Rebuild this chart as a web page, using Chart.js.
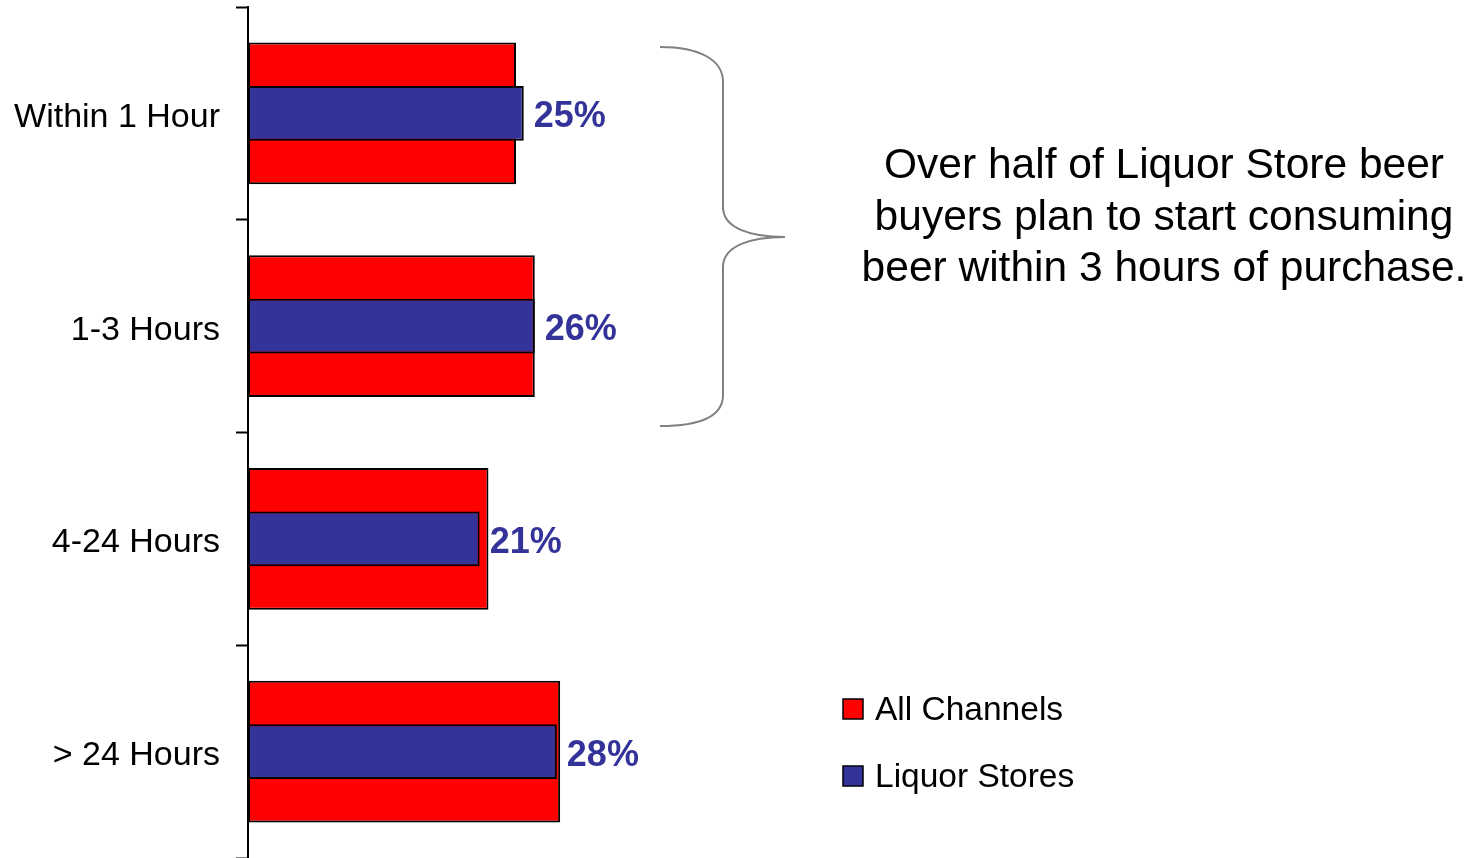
<!DOCTYPE html>
<html>
<head>
<meta charset="utf-8">
<script src="https://cdn.jsdelivr.net/npm/chart.js@4.4.1/dist/chart.umd.min.js"></script>
<style>
  html, body { margin: 0; padding: 0; background: #fff; }
  #wrap { width: 1472px; height: 858px; }
</style>
</head>
<body>
<div id="wrap"><canvas id="timingChart" width="1472" height="858"></canvas></div>
<script>
// Time until consumption after purchase
var categories = ['Within 1 Hour', '1-3 Hours', '4-24 Hours', '> 24 Hours'];
var allChannels = [24.3, 26, 21.8, 28.3];
var liquorStores = [25, 26, 21, 28];
var seriesNames = ['All Channels', 'Liquor Stores'];
var calloutLines = [
    'Over half of Liquor Store beer',
    'buyers plan to start consuming',
    'beer within 3 hours of purchase.'
];

var FONT = "'Liberation Sans', Arial, sans-serif";
var RED = '#ff0000';
var BLUE = '#333399';

// percent labels at the end of the liquor store bars
var valueLabels = {
    id: 'valueLabels',
    afterDatasetsDraw: function(chart) {
        var ctx = chart.ctx;
        var meta = chart.getDatasetMeta(1);
        ctx.save();
        ctx.font = 'bold 36px ' + FONT;
        ctx.fillStyle = BLUE;
        ctx.textAlign = 'left';
        ctx.textBaseline = 'middle';
        meta.data.forEach(function(bar, i) {
            ctx.fillText(liquorStores[i] + '%', bar.x + 10, bar.y + 4);
        });
        ctx.restore();
    }
};

// brace, callout text and legend
var extras = {
    id: 'extras',
    afterDraw: function(chart) {
        var ctx = chart.ctx;
        ctx.save();

        // curly brace around the first two groups
        ctx.strokeStyle = '#808080';
        ctx.lineWidth = 2;
        ctx.beginPath();
        ctx.moveTo(660, 47);
        ctx.bezierCurveTo(700, 47, 723, 60, 723, 82);
        ctx.lineTo(723, 207);
        ctx.bezierCurveTo(723, 228, 750, 237, 785, 237);
        ctx.bezierCurveTo(750, 237, 723, 246, 723, 267);
        ctx.lineTo(723, 395);
        ctx.bezierCurveTo(723, 416, 700, 426, 660, 426);
        ctx.stroke();

        // callout
        ctx.fillStyle = '#000';
        ctx.font = '42.5px ' + FONT;
        ctx.textAlign = 'center';
        ctx.textBaseline = 'alphabetic';
        calloutLines.forEach(function(line, i) {
            ctx.fillText(line, 1164, 178 + i * 51.5);
        });

        // legend
        ctx.font = '33.5px ' + FONT;
        ctx.textAlign = 'left';
        ctx.textBaseline = 'middle';
        chart.data.datasets.forEach(function(ds, i) {
            var y = 709 + i * 67;
            ctx.fillStyle = ds.backgroundColor;
            ctx.fillRect(843, y - 10, 20, 20);
            ctx.strokeStyle = '#000';
            ctx.lineWidth = 1.5;
            ctx.strokeRect(843, y - 10, 20, 20);
            ctx.fillStyle = '#000';
            ctx.fillText(ds.label, 875, y + 2);
        });

        ctx.restore();
    }
};

new Chart(document.getElementById('timingChart'), {
    type: 'bar',
    data: {
        labels: categories,
        datasets: [
            {
                label: seriesNames[0],
                data: allChannels,
                backgroundColor: RED,
                borderColor: '#000',
                borderWidth: 2,
                borderSkipped: false,
                categoryPercentage: 1,
                barPercentage: 0.667,
                grouped: false,
                order: 1
            },
            {
                label: seriesNames[1],
                data: liquorStores,
                backgroundColor: BLUE,
                borderColor: '#000',
                borderWidth: 2,
                borderSkipped: false,
                categoryPercentage: 1,
                barPercentage: 0.258,
                grouped: false,
                order: 0
            }
        ]
    },
    options: {
        indexAxis: 'y',
        responsive: false,
        animation: false,
        layout: { padding: { top: 7, right: 121, bottom: 0, left: 0 } },
        plugins: {
            legend: { display: false },
            tooltip: { enabled: false }
        },
        scales: {
            x: { display: false, min: 0, max: 100 },
            y: {
                z: 1,
                grid: {
                    drawOnChartArea: false,
                    drawTicks: true,
                    tickLength: 12,
                    tickColor: '#000',
                    tickWidth: 2,
                    offset: true
                },
                border: { display: true, color: '#000', width: 2 },
                ticks: {
                    color: '#000',
                    font: { family: FONT, size: 34 },
                    padding: 16,
                    labelOffset: 4
                },
                afterFit: function(scale) {
                    scale.width = 248;
                    scale.paddingTop = 0;
                    scale.paddingBottom = 0;
                }
            }
        }
    },
    plugins: [valueLabels, extras]
});
</script>
</body>
</html>
